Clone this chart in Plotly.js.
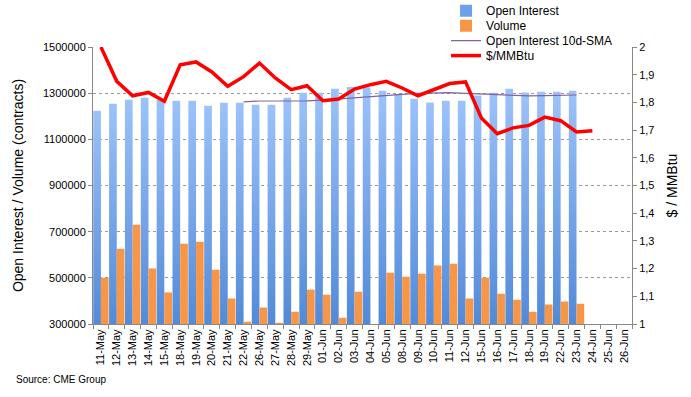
<!DOCTYPE html>
<html>
<head>
<meta charset="utf-8">
<script src="https://cdn.plot.ly/plotly-3.0.1.min.js"></script>
<style>
html,body{margin:0;padding:0;background:#fff;}
#chart{width:691px;height:397px;}
</style>
</head>
<body>
<div id="chart"></div>
<script>
const dates = ["11-May","12-May","13-May","14-May","15-May","18-May","19-May","20-May","21-May","22-May",
  "26-May","27-May","28-May","29-May","01-Jun","02-Jun","03-Jun","04-Jun","05-Jun","08-Jun",
  "09-Jun","10-Jun","11-Jun","12-Jun","15-Jun","16-Jun","17-Jun","18-Jun","19-Jun","22-Jun",
  "23-Jun","24-Jun","25-Jun","26-Jun"];

const openInterest = [1224000,1254000,1272000,1280000,1272000,1267000,1267000,1246000,1259000,1259000,
  1250000,1250000,1280000,1302000,1302000,1319000,1327000,1326000,1311000,1296000,
  1276000,1260000,1267000,1267000,1290000,1302000,1319000,1303000,1306000,1306000,
  1311000,null,null,null];

const volume = [500000,626000,730000,540000,436000,648000,656000,535000,410000,310000,
  371000,305000,353000,449000,427000,327000,440000,null,522000,505000,
  518000,553000,561000,410000,500000,431000,405000,353000,384000,397000,
  388000,null,null,null];

const oiSMA = [null,null,null,null,null,null,null,null,null,1262000,
  1266000,1266000,1266000,1267000,1270000,1275000,1282000,1288000,1290000,1295000,
  1299000,1302000,1302000,1299000,1296000,1292000,1290000,1288000,1289000,1290000,
  1292000,null,null,null];

const price = [2.0,1.876,1.824,1.836,1.804,1.936,1.946,1.910,1.858,1.893,
  1.942,1.888,1.846,1.860,1.806,1.812,1.848,1.864,1.876,1.852,
  1.824,1.846,1.868,1.874,1.744,1.687,1.708,1.717,1.747,1.734,
  1.693,1.698,null,null];

const leftTicks = [300000,500000,700000,900000,1100000,1300000,1500000];
const rightTicks = [1,1.1,1.2,1.3,1.4,1.5,1.6,1.7,1.8,1.9,2];
const rightTickText = ["1","1,1","1,2","1,3","1,4","1,5","1,6","1,7","1,8","1,9","2"];

const FONT = "Liberation Sans, Arial, sans-serif";

const traces = [
  {type:"bar", name:"Open Interest", x:dates, y:openInterest, marker:{color:"#6E9FEA"}, yaxis:"y", legend:"legend"},
  {type:"bar", name:"Volume", x:dates, y:volume, marker:{color:"#F79646"}, yaxis:"y", legend:"legend2"},
  {type:"scatter", mode:"lines", name:"Open Interest 10d-SMA", x:dates, y:oiSMA,
   line:{color:"#8064A2", width:1.2}, yaxis:"y", connectgaps:false, legend:"legend3"},
  {type:"scatter", mode:"lines", name:"$/MMBtu", x:dates, y:price,
   line:{color:"#FF0000", width:3.5}, yaxis:"y2", connectgaps:false, legend:"legend4"}
];

function leg(y){
  return {x:0.655, y:y, xanchor:"left", yanchor:"middle", font:{size:12, family:FONT},
    bgcolor:"rgba(0,0,0,0)", borderwidth:0};
}

const layout = {
  width:691, height:397,
  margin:{l:93, r:59, t:47, b:73, autoexpand:false},
  paper_bgcolor:"#fff", plot_bgcolor:"#fff",
  font:{family:FONT, size:11, color:"#000"},
  barmode:"group", bargap:0.03, bargroupgap:0,
  showlegend:true,
  legend:leg(1.131), legend2:leg(1.077), legend3:leg(1.023), legend4:leg(0.969),
  xaxis:{type:"category", range:[-0.5,33.5], tickangle:-90, tickson:"boundaries",
    ticks:"outside", ticklen:4, tickcolor:"#888", showline:true, linecolor:"#888", linewidth:1,
    showgrid:false, zeroline:false, tickfont:{size:11, family:FONT}, fixedrange:true},
  yaxis:{range:[300000,1500000], tickvals:leftTicks, tickformat:"d",
    ticks:"outside", ticklen:4, tickcolor:"#888", showline:true, linecolor:"#888", linewidth:1,
    showgrid:true, gridcolor:"#999", griddash:"dot", gridwidth:1, zeroline:false,
    tickfont:{size:11, family:FONT},
    title:{text:"Open Interest / Volume (contracts)", font:{size:14, family:FONT}, standoff:16}},
  yaxis2:{range:[1,2], overlaying:"y", side:"right", tickvals:rightTicks, ticktext:rightTickText,
    ticks:"outside", ticklen:4, tickcolor:"#888", showline:true, linecolor:"#888", linewidth:1,
    showgrid:false, zeroline:false, tickfont:{size:11, family:FONT},
    title:{text:"$ / MMBtu", font:{size:14, family:FONT}, standoff:13}},
  annotations:[{text:"Source: CME Group", xref:"paper", yref:"paper", x:-0.147, y:-0.202,
    xanchor:"left", yanchor:"middle", showarrow:false, font:{size:10, family:FONT}}]
};

Plotly.newPlot("chart", traces, layout, {displayModeBar:false, staticPlot:true}).then(function(gd){
  const svg = gd.querySelector("svg.main-svg");
  const ns = "http://www.w3.org/2000/svg";
  let defs = svg.querySelector("defs");
  if(!defs){ defs = document.createElementNS(ns,"defs"); svg.insertBefore(defs, svg.firstChild); }
  const g = document.createElementNS(ns,"linearGradient");
  g.setAttribute("id","oiGrad"); g.setAttribute("x1","0"); g.setAttribute("y1","0");
  g.setAttribute("x2","0"); g.setAttribute("y2","1");
  [["0","#9CC2FA"],["1","#3B79CE"]].forEach(function(s){
    const st = document.createElementNS(ns,"stop");
    st.setAttribute("offset",s[0]); st.setAttribute("stop-color",s[1]);
    g.appendChild(st);
  });
  defs.appendChild(g);
  const barTraces = gd.querySelectorAll(".barlayer .trace.bars");
  if(barTraces.length){
    barTraces[0].querySelectorAll("path").forEach(function(p){ p.style.fill = "url(#oiGrad)"; });
  }
});
</script>
</body>
</html>
